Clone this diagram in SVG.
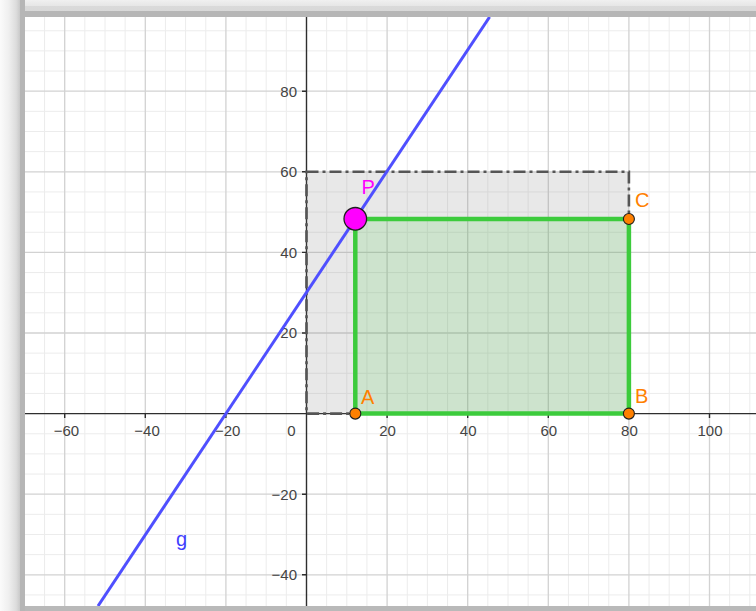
<svg xmlns="http://www.w3.org/2000/svg" width="756" height="611" viewBox="0 0 756 611">
  <defs>
    <linearGradient id="leftShade" x1="0" y1="0" x2="1" y2="0">
      <stop offset="0" stop-color="#fbfbfb"/>
      <stop offset="0.35" stop-color="#efefef"/>
      <stop offset="0.65" stop-color="#dcdcdc"/>
      <stop offset="0.8" stop-color="#c9c9c9"/>
      <stop offset="0.82" stop-color="#b6b6b6"/>
      <stop offset="1" stop-color="#b6b6b6"/>
    </linearGradient>
    <linearGradient id="topFade" x1="0" y1="0" x2="0" y2="1">
      <stop offset="0" stop-color="#f0f0f0"/>
      <stop offset="0.35" stop-color="#e6e6e6"/>
      <stop offset="0.36" stop-color="#dadada"/>
      <stop offset="0.64" stop-color="#d8d8d8"/>
      <stop offset="0.66" stop-color="#b6b6b6"/>
      <stop offset="1" stop-color="#b6b6b6"/>
    </linearGradient>
    <clipPath id="plot">
      <rect x="25" y="17" width="731" height="589"/>
    </clipPath>
    <style>
      .minor { stroke: #ececec; stroke-width: 1; fill: none; }
      .major { stroke: #d2d2d2; stroke-width: 1.3; fill: none; }
      .axis { stroke: #2e2e2e; stroke-width: 1.4; fill: none; }
      .tick { font-family: "Liberation Sans", Arial, sans-serif; font-size: 15px; fill: #444444; }
      .tx { text-anchor: middle; }
      .ty { text-anchor: end; }
      .lbl { font-family: "Liberation Sans", Arial, sans-serif; font-size: 20px; }
      .orange { fill: #ff8000; }
      .pt { fill: #ff8000; stroke: #1e1e1e; stroke-width: 1.1; }
    </style>
  </defs>

  <!-- frame / shadow -->
  <rect x="0" y="0" width="756" height="611" fill="#ffffff"/>
  <rect x="0" y="0" width="756" height="17" fill="url(#topFade)"/>
  <rect x="0" y="606" width="756" height="5" fill="#b9b9b9"/>
  <rect x="0" y="0" width="25" height="611" fill="url(#leftShade)"/>

  <g id="plot-area" clip-path="url(#plot)">
    <rect x="25" y="17" width="731" height="589" fill="#ffffff"/>
    <g id="grid">
      <path class="minor" d="M44.55 17V606M84.85 17V606M105 17V606M125.15 17V606M165.45 17V606M185.6 17V606M205.75 17V606M246.05 17V606M266.2 17V606M286.35 17V606M326.65 17V606M346.8 17V606M366.95 17V606M407.25 17V606M427.4 17V606M447.55 17V606M487.85 17V606M508 17V606M528.15 17V606M568.45 17V606M588.6 17V606M608.75 17V606M649.05 17V606M669.2 17V606M689.35 17V606M729.65 17V606M749.8 17V606"/>
      <path class="minor" d="M25 30.75H756M25 50.9H756M25 71.05H756M25 111.35H756M25 131.5H756M25 151.65H756M25 191.95H756M25 212.1H756M25 232.25H756M25 272.55H756M25 292.7H756M25 312.85H756M25 353.15H756M25 373.3H756M25 393.45H756M25 433.75H756M25 453.9H756M25 474.05H756M25 514.35H756M25 534.5H756M25 554.65H756M25 594.95H756"/>
      <path class="major" d="M64.7 17V606M145.3 17V606M225.9 17V606M387.1 17V606M467.7 17V606M548.3 17V606M628.9 17V606M709.5 17V606"/>
      <path class="major" d="M25 91.2H756M25 171.8H756M25 252.4H756M25 333H756M25 494.2H756M25 574.8H756"/>
    </g>

    <g id="axes">
      <path class="axis" d="M25 413.6H756M306.5 17V606"/>
      <path class="axis" d="M64.7 413.6V418M145.3 413.6V418M225.9 413.6V418M387.1 413.6V418M467.7 413.6V418M548.3 413.6V418M628.9 413.6V418M709.5 413.6V418M302 91.2H306.5M302 171.8H306.5M302 252.4H306.5M302 333H306.5M302 494.2H306.5M302 574.8H306.5"/>
      <g class="tick tx">
        <text x="66.5" y="436">−60</text>
        <text x="147.1" y="436">−40</text>
        <text x="227.7" y="436">−20</text>
        <text x="291.5" y="436">0</text>
        <text x="387.6" y="436">20</text>
        <text x="468.2" y="436">40</text>
        <text x="548.8" y="436">60</text>
        <text x="629.4" y="436">80</text>
        <text x="710" y="436">100</text>
      </g>
      <g class="tick ty">
        <text x="297" y="96.5">80</text>
        <text x="297" y="177.1">60</text>
        <text x="297" y="257.7">40</text>
        <text x="297" y="338.3">20</text>
        <text x="297" y="499.5">−20</text>
        <text x="297" y="580.1">−40</text>
      </g>
    </g>

    <g id="rect-outer">
      <rect x="306.5" y="171.8" width="322.4" height="241.8" fill="#808080" fill-opacity="0.18" stroke="#555555" stroke-width="2.6" stroke-dasharray="12 4 3 4"/>
    </g>

    <g id="rect-inner">
      <rect x="355.3" y="219" width="273.6" height="194.6" fill="#33cc33" fill-opacity="0.15" stroke="#3ccb3c" stroke-width="4.5" stroke-linejoin="round"/>
    </g>

    <g id="connectors">
      <line id="line-g" x1="489.6" y1="17" x2="98" y2="606" stroke="#4f4fff" stroke-width="3"/>
    </g>

    <g id="point-A">
      <circle class="pt" cx="355.3" cy="413.6" r="5.5"/>
      <text class="lbl orange" x="361" y="404">A</text>
    </g>
    <g id="point-B">
      <circle class="pt" cx="628.9" cy="413.6" r="5.5"/>
      <text class="lbl orange" x="635" y="403">B</text>
    </g>
    <g id="point-C">
      <circle class="pt" cx="628.9" cy="219" r="5.5"/>
      <text class="lbl orange" x="635" y="207">C</text>
    </g>
    <g id="point-P">
      <circle cx="355.3" cy="218.8" r="11.3" fill="#ff00ff" stroke="#1e1e1e" stroke-width="1.3"/>
      <text class="lbl" x="361.5" y="194" fill="#ff00ff">P</text>
    </g>
    <g id="label-g">
      <text class="lbl" x="176" y="546" fill="#4040ff">g</text>
    </g>
  </g>
</svg>
